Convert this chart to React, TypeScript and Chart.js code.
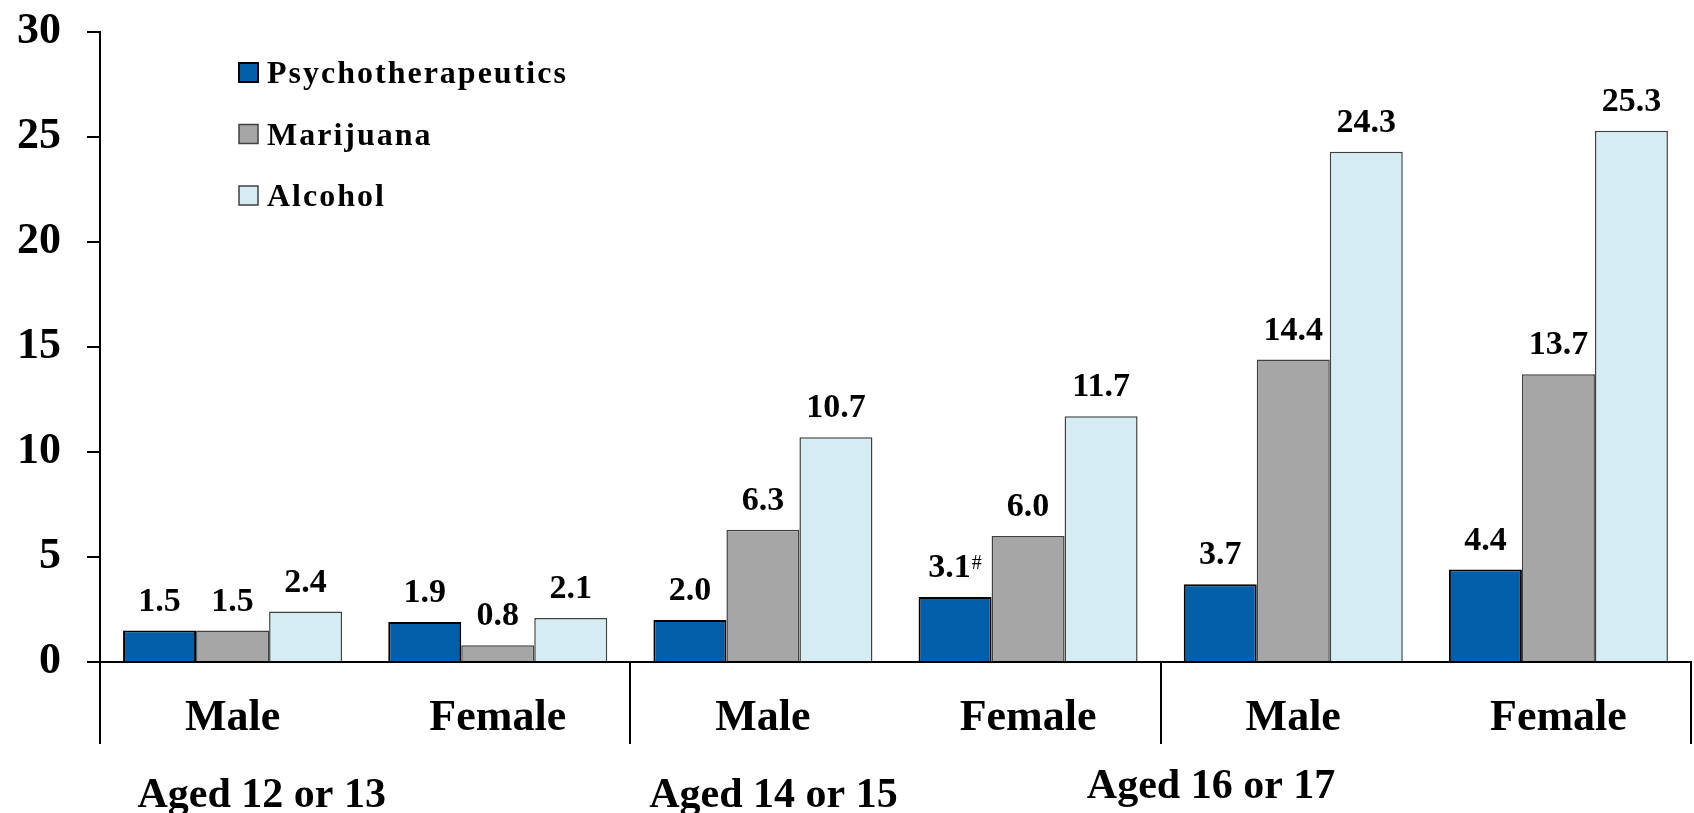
import { useEffect, useRef } from 'react';
import { Chart, registerables } from 'chart.js';

Chart.register(...registerables);

const FONT = '"Liberation Serif", "Times New Roman", Times, serif';

const categories = ['Male', 'Female', 'Male', 'Female', 'Male', 'Female'];
const ageGroups = ['Aged 12 or 13', 'Aged 14 or 15', 'Aged 16 or 17'];
const seriesNames = ['Psychotherapeutics', 'Marijuana', 'Alcohol'];
const psychotherapeutics = [1.5, 1.9, 2.0, 3.1, 3.7, 4.4];
const marijuana = [1.5, 0.8, 6.3, 6.0, 14.4, 13.7];
const alcohol = [2.4, 2.1, 10.7, 11.7, 24.3, 25.3];
const psychNotes = ['', '', '', '#', '', ''];
const yTicks = [0, 5, 10, 15, 20, 25, 30];

const valueLabels = {
  id: 'valueLabels',
  afterDatasetsDraw(chart: any) {
    const ctx = chart.ctx;
    ctx.save();
    ctx.fillStyle = '#000';
    ctx.textBaseline = 'alphabetic';
    ctx.textAlign = 'left';
    chart.data.datasets.forEach((ds: any, di: number) => {
      const meta = chart.getDatasetMeta(di);
      meta.data.forEach((bar: any, i: number) => {
        const v = ds.data[i];
        const txt = Number(v).toFixed(1);
        const note = (ds.notes && ds.notes[i]) || '';
        ctx.font = `bold 34px ${FONT}`;
        const w = ctx.measureText(txt).width;
        let nw = 0;
        if (note) {
          ctx.font = `20px ${FONT}`;
          nw = ctx.measureText(note).width + 1;
        }
        const x0 = bar.x - (w + nw) / 2;
        const y = bar.y - 20;
        ctx.font = `bold 34px ${FONT}`;
        ctx.fillText(txt, x0, y);
        if (note) {
          ctx.font = `20px ${FONT}`;
          ctx.fillText(note, x0 + w + 1, y - 8);
        }
      });
    });
    ctx.restore();
  },
};

const legendBoxes = {
  id: 'legendBoxes',
  afterDraw(chart: any) {
    const ctx = chart.ctx;
    const area = chart.chartArea;
    ctx.save();
    chart.data.datasets.forEach((ds: any, i: number) => {
      const cy = area.top + 40.5 + i * 61.5;
      const bx = area.left + 139;
      const size = 19;
      ctx.fillStyle = ds.backgroundColor;
      ctx.fillRect(bx, cy - size / 2, size, size);
      ctx.strokeStyle = ds.borderColor;
      ctx.lineWidth = ds.borderWidth;
      ctx.strokeRect(bx, cy - size / 2, size, size);
      ctx.fillStyle = '#000';
      ctx.font = `bold 32px ${FONT}`;
      try { (ctx as any).letterSpacing = '2px'; } catch (e) {}
      ctx.textAlign = 'left';
      ctx.textBaseline = 'alphabetic';
      ctx.fillText(ds.label, bx + 28, cy + 10.5);
      try { (ctx as any).letterSpacing = '0px'; } catch (e) {}
    });
    ctx.restore();
  },
};

const groupDecor = {
  id: 'groupDecor',
  afterDraw(chart: any) {
    const ctx = chart.ctx;
    const area = chart.chartArea;
    const xs = chart.scales.x;
    ctx.save();
    ctx.strokeStyle = '#000';
    ctx.lineWidth = 2;
    const bounds = [area.left];
    for (let g = 1; g < ageGroups.length; g++) {
      bounds.push((xs.getPixelForValue(g * 2 - 1) + xs.getPixelForValue(g * 2)) / 2);
    }
    bounds.push(area.right);
    bounds.forEach((bx) => {
      const px = Math.round(bx);
      ctx.beginPath();
      ctx.moveTo(px, area.bottom);
      ctx.lineTo(px, area.bottom + 82);
      ctx.stroke();
    });
    const anchors = [0.11, 2.04, 3.69];
    const dy = [145, 145, 136];
    ctx.fillStyle = '#000';
    ctx.font = `bold 42px ${FONT}`;
    ctx.textAlign = 'center';
    ctx.textBaseline = 'alphabetic';
    ageGroups.forEach((label, g) => {
      ctx.fillText(label, xs.getPixelForValue(anchors[g]), area.bottom + dy[g]);
    });
    ctx.restore();
  },
};

export default function App() {
  const canvasRef = useRef<HTMLCanvasElement | null>(null);

  useEffect(() => {
    const canvas = canvasRef.current;
    if (!canvas) return;
    const chart = new Chart(canvas, {
      type: 'bar',
      data: {
        labels: categories,
        datasets: [
          {
            label: seriesNames[0],
            data: psychotherapeutics,
            backgroundColor: '#005FA8',
            borderColor: '#000000',
            borderWidth: 2,
            notes: psychNotes,
          } as any,
          {
            label: seriesNames[1],
            data: marijuana,
            backgroundColor: '#A6A6A6',
            borderColor: '#404040',
            borderWidth: 1.5,
          },
          {
            label: seriesNames[2],
            data: alcohol,
            backgroundColor: '#D5EDF2',
            borderColor: '#404040',
            borderWidth: 1.5,
          },
        ],
      },
      options: {
        animation: false,
        responsive: true,
        maintainAspectRatio: false,
        layout: { padding: { top: 32, right: 3, left: 0, bottom: 0 } },
        datasets: {
          bar: { categoryPercentage: 0.826, barPercentage: 1.0 },
        },
        plugins: {
          legend: { display: false },
          tooltip: { enabled: false },
          title: { display: false },
        },
        scales: {
          x: {
            type: 'category',
            offset: true,
            grid: { display: false, drawTicks: false },
            border: { display: true, color: '#000', width: 2 },
            ticks: {
              color: '#000',
              font: { family: FONT, size: 44, weight: 'bold' },
              padding: 30,
              maxRotation: 0,
              autoSkip: false,
            },
            afterFit(scale: any) {
              scale.height = 151;
              scale.paddingLeft = 0;
              scale.paddingRight = 0;
            },
          },
          y: {
            min: 0,
            max: 30,
            afterBuildTicks(scale: any) {
              scale.ticks = yTicks.map((v) => ({ value: v }));
            },
            grid: {
              display: true,
              drawOnChartArea: false,
              drawTicks: true,
              tickLength: 13,
              color: '#000',
              lineWidth: 2,
            },
            border: { display: true, color: '#000', width: 2 },
            ticks: {
              color: '#000',
              font: { family: FONT, size: 44, weight: 'bold' },
              padding: 26,
            },
            afterFit(scale: any) {
              scale.width = 100;
              scale.paddingTop = 0;
              scale.paddingBottom = 0;
            },
          },
        },
      },
      plugins: [valueLabels, legendBoxes, groupDecor],
    } as any);
    return () => {
      chart.destroy();
    };
  }, []);

  return (
    <div style={{ position: 'fixed', left: 0, top: 0, width: 1694, height: 813, background: '#fff' }}>
      <canvas ref={canvasRef} />
    </div>
  );
}
